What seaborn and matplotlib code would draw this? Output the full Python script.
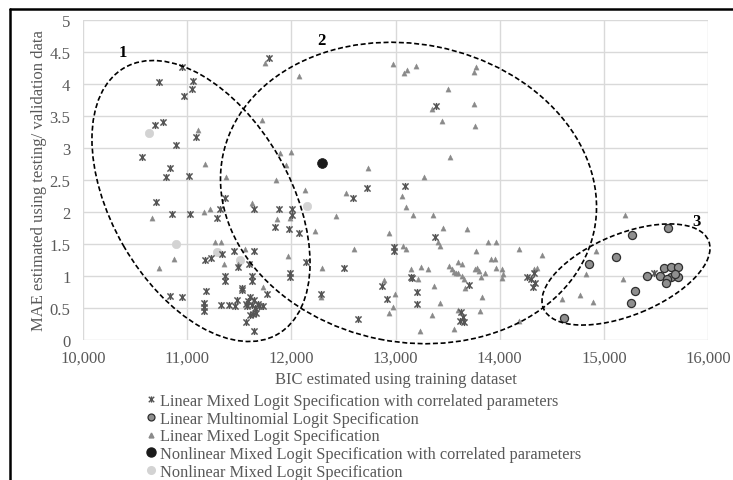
import numpy as np
import pandas as pd
import matplotlib
matplotlib.use("Agg")
import matplotlib.pyplot as plt
import seaborn as sns
from matplotlib.path import Path
from matplotlib.patches import Ellipse
from matplotlib.lines import Line2D
from matplotlib.transforms import Affine2D

sns.set_theme(style="white")
plt.rcParams["font.family"] = ["Liberation Serif", "DejaVu Serif"]

# ---------------- data ----------------
series_names = [
    "Linear Mixed Logit Specification with correlated parameters",
    "Linear Multinomial Logit Specification",
    "Linear Mixed Logit Specification",
    "Nonlinear Mixed Logit Specification with correlated parameters",
    "Nonlinear Mixed Logit Specification",
]

lmc_bic = [11783, 10953, 10727, 11053, 11046, 10973, 10694, 10768, 11082, 10890, 10570, 10838, 10800, 11014,
           10698, 10854, 11030, 11312, 11290, 11360, 11642, 11878, 11843, 12010, 12010, 11981, 12074,
           11174, 11229, 11331, 11446, 11642, 11488, 11597, 11363, 11363, 11622, 11622, 11523, 11523, 11184,
           10835, 10947, 11770, 11158, 11158, 11158, 11325, 11400, 11455, 11480,
           11580, 11570, 11620, 11650, 11690, 11730, 11600, 11640, 11560, 11680,
           11600, 11630, 11660, 11562, 11639, 11987, 11987, 12138,
           12723, 12589, 13091, 13389, 13382, 12989, 12989, 12502, 13146, 13160, 13702, 12870, 12282, 12915,
           13203, 13203, 12640, 13630, 13650, 13620, 13660,
           14260, 14300, 14330, 14340, 14320, 15485]
lmc_mae = [4.40, 4.26, 4.02, 4.05, 3.91, 3.81, 3.36, 3.40, 3.17, 3.04, 2.85, 2.68, 2.55, 2.56,
           2.15, 1.96, 1.97, 2.05, 1.90, 2.22, 2.05, 2.05, 1.76, 2.05, 1.95, 1.73, 1.67,
           1.25, 1.28, 1.34, 1.39, 1.38, 1.13, 1.18, 1.00, 0.92, 0.99, 0.92, 0.81, 0.77, 0.76,
           0.69, 0.66, 0.71, 0.58, 0.51, 0.45, 0.54, 0.55, 0.53, 0.62,
           0.60, 0.53, 0.55, 0.50, 0.52, 0.52, 0.66, 0.62, 0.56, 0.56,
           0.38, 0.40, 0.42, 0.27, 0.14, 0.98, 1.05, 1.22,
           2.37, 2.21, 2.40, 3.65, 1.61, 1.45, 1.39, 1.12, 0.98, 0.96, 0.85, 0.84, 0.71, 0.64,
           0.74, 0.56, 0.32, 0.43, 0.35, 0.30, 0.28,
           0.98, 0.95, 1.05, 0.88, 0.82, 1.05]

lmnl_bic = [15619, 15273, 15120, 14858, 15412, 15536, 15578, 15648, 15715, 15648, 15715, 15609, 15593,
            15679, 15299, 15264, 14615]
lmnl_mae = [1.75, 1.63, 1.29, 1.18, 1.00, 1.00, 1.12, 1.13, 1.13, 0.98, 0.98, 0.95, 0.88,
            1.03, 0.76, 0.57, 0.34]

lml_bic = [11744, 11101, 11171, 11370, 11721, 12000, 11891, 11952, 11849, 12131, 12739, 12525, 13059, 13277, 13523,
           12077, 12973, 13082, 13114, 13197, 13770, 13757, 13504, 13347, 13750, 13446, 13763,
           13104, 13164, 13363, 12426, 12227, 12938, 13453, 13683, 13405, 13424, 12602, 13075, 13104, 13885, 13965,
           13770, 12298, 13146, 13242, 13312,
           13515, 13545, 13560, 13585, 13600, 13603, 13639, 13765, 13785, 13800, 13859, 13920, 13952, 13962,
           13219, 13639, 13655, 13821, 13667, 12893, 13373, 12282, 12998, 13827, 13427, 12979, 12935, 13354, 13814,
           13597, 13562, 13238,
           10665, 11158, 11219, 11625, 11865, 11990, 10874, 10733, 11267, 11328, 11558, 11350, 11491, 11728, 11970,
           15200, 14183, 14410, 14928, 15107, 15187, 14826, 14774, 14598, 14893, 14183, 14020, 14030, 14022,
           14326, 14360]
lml_mae = [4.32, 3.28, 2.75, 2.55, 3.44, 2.93, 2.92, 2.73, 2.50, 2.34, 2.69, 2.29, 2.25, 2.54, 2.86,
           4.12, 4.31, 4.16, 4.21, 4.27, 4.26, 4.19, 3.91, 3.60, 3.69, 3.41, 3.34,
           2.08, 1.95, 1.95, 1.93, 1.70, 1.66, 1.75, 1.73, 1.53, 1.46, 1.42, 1.46, 1.41, 1.53, 1.53,
           1.38, 1.12, 1.10, 1.13, 1.10,
           1.15, 1.10, 1.06, 1.04, 1.04, 1.22, 1.18, 1.10, 1.12, 1.08, 1.05, 1.26, 1.26, 1.12,
           0.95, 1.00, 0.95, 0.98, 0.81, 0.94, 0.84, 0.66, 0.71, 0.66, 0.58, 0.51, 0.41, 0.38, 0.45,
           0.47, 0.16, 0.13,
           1.90, 2.00, 2.04, 2.14, 1.88, 1.90, 1.26, 1.12, 1.52, 1.52, 1.42, 1.18, 1.18, 0.83, 1.31,
           1.95, 1.42, 1.32, 1.38, 1.30, 0.95, 1.02, 0.70, 0.64, 0.59, 0.30, 1.10, 1.03, 0.96,
           1.10, 1.12]

nlc_bic = [12291]
nlc_mae = [2.76]

nl_bic = [10637, 10896, 11286, 11510, 12147]
nl_mae = [3.23, 1.49, 1.37, 1.24, 2.09]

x_ticks = [10000, 11000, 12000, 13000, 14000, 15000, 16000]
y_ticks = [0, 0.5, 1, 1.5, 2, 2.5, 3, 3.5, 4, 4.5, 5]

df = pd.concat([
    pd.DataFrame({"BIC": lmc_bic, "MAE": lmc_mae, "series": series_names[0]}),
    pd.DataFrame({"BIC": lmnl_bic, "MAE": lmnl_mae, "series": series_names[1]}),
    pd.DataFrame({"BIC": lml_bic, "MAE": lml_mae, "series": series_names[2]}),
    pd.DataFrame({"BIC": nlc_bic, "MAE": nlc_mae, "series": series_names[3]}),
    pd.DataFrame({"BIC": nl_bic, "MAE": nl_mae, "series": series_names[4]}),
], ignore_index=True)

# ---------------- styling ----------------
star = Path([(-1, -1), (1, 1), (-1, 1), (1, -1), (0, -1.15), (0, 1.15)],
            [Path.MOVETO, Path.LINETO, Path.MOVETO, Path.LINETO, Path.MOVETO, Path.LINETO])

W, H = 733, 481
fig = plt.figure(figsize=(W / 100, H / 100), dpi=100)
L, R, T, B = 83, 708, 20.7, 340.7
ax = fig.add_axes([L / W, 1 - B / H, (R - L) / W, (B - T) / H])

grey_txt = "#595959"
FS = 12

styles = {
    series_names[4]: dict(marker="o", s=36, color="#d3d3d3", edgecolor="#d3d3d3", linewidth=0.5),
    series_names[2]: dict(marker="^", s=14, color="#8a8a8a", edgecolor="#8a8a8a", linewidth=0.3),
    series_names[0]: dict(marker=star, s=26, color="#555555", edgecolor="#555555", linewidth=1.05),
    series_names[1]: dict(marker="o", s=34, color="#8f8f8f", edgecolor="#2e2e2e", linewidth=0.9),
    series_names[3]: dict(marker="o", s=50, color="#1a1a1a", edgecolor="#1a1a1a", linewidth=0.5),
}
for name in [series_names[4], series_names[2], series_names[0], series_names[1], series_names[3]]:
    st = styles[name]
    sns.scatterplot(data=df[df["series"] == name], x="BIC", y="MAE", ax=ax, legend=False,
                    marker=st["marker"], s=st["s"], color=st["color"],
                    edgecolor=st["edgecolor"], linewidth=st["linewidth"], zorder=3)

ax.set_xlim(10000, 16000)
ax.set_ylim(0, 5)
ax.set_xticks(x_ticks)
ax.set_xticklabels([f"{v:,}" for v in x_ticks])
ax.set_yticks(y_ticks)
ax.set_yticklabels([f"{v:g}" for v in y_ticks])
ax.grid(True, color="#d9d9d9", linewidth=1.0)
ax.set_axisbelow(True)
for sp in ax.spines.values():
    sp.set_visible(False)
ax.tick_params(axis="both", length=0, labelsize=FS, labelcolor=grey_txt)
ax.tick_params(axis="y", pad=9)
ax.tick_params(axis="x", pad=7)
ax.set_xlabel("BIC estimated using training dataset", fontsize=FS, color=grey_txt)
ax.set_ylabel("MAE estimated using testing/ validation data", fontsize=FS, color=grey_txt)
ax.xaxis.set_label_coords(0.5, (B - 372) / (B - T))
ax.yaxis.set_label_coords((47 - L) / (R - L), 0.5)

# ---------------- ellipses (in plot-pixel units) ----------------
pw, ph = R - L, B - T
tr = Affine2D().scale(1 / pw, 1 / ph) + ax.transAxes
ellipses = [((118, 138.7), 307.4, 179.0, -60.1),
            ((325.5, 146.7), 378.8, 298.0, -11.2),
            ((543.0, 65.2), 178.4, 81.4, 22.2)]
for (c, w, h, ang) in ellipses:
    e = Ellipse(c, w, h, angle=ang, transform=tr, fill=False, edgecolor="black",
                linewidth=1.2, linestyle=(0, (3, 1.6)), clip_on=False, zorder=4)
    ax.add_patch(e)

for lbl, px, py in [("1", 123, 53), ("2", 321.7, 40.7), ("3", 696.3, 221.7)]:
    ax.text((px - L) / pw, (B - py) / ph, lbl, transform=ax.transAxes, ha="center", va="center",
            fontsize=12, fontweight="bold", color="black", zorder=5)

# ---------------- legend ----------------
handles = [
    Line2D([], [], linestyle="none", marker=star, markersize=4.5, markeredgecolor="#555555",
           markerfacecolor="#555555", markeredgewidth=1.0),
    Line2D([], [], linestyle="none", marker="o", markersize=5, markerfacecolor="#8f8f8f",
           markeredgecolor="#2e2e2e", markeredgewidth=0.9),
    Line2D([], [], linestyle="none", marker="^", markersize=3.5, markerfacecolor="#8a8a8a",
           markeredgecolor="#8a8a8a"),
    Line2D([], [], linestyle="none", marker="o", markersize=6.5, markerfacecolor="#1a1a1a",
           markeredgecolor="#1a1a1a"),
    Line2D([], [], linestyle="none", marker="o", markersize=5.5, markerfacecolor="#d3d3d3",
           markeredgecolor="#d3d3d3"),
]
leg = fig.legend(handles, series_names, loc="upper left", bbox_to_anchor=(146 / W, 1 - 394 / H),
                 frameon=False, fontsize=11.8, handlelength=0.6, handletextpad=0.25,
                 labelspacing=0.1, borderpad=0, borderaxespad=0)
for t in leg.get_texts():
    t.set_color(grey_txt)

# ---------------- outer frame (top and left edges) ----------------
fig.add_artist(Line2D([9.5 / W, 9.5 / W], [0, 1 - 9.5 / H], color="black", linewidth=1.8,
                      transform=fig.transFigure))
fig.add_artist(Line2D([9.5 / W, 1], [1 - 9.5 / H, 1 - 9.5 / H], color="black", linewidth=1.8,
                      transform=fig.transFigure))

fig.savefig("out.png", dpi=100)
